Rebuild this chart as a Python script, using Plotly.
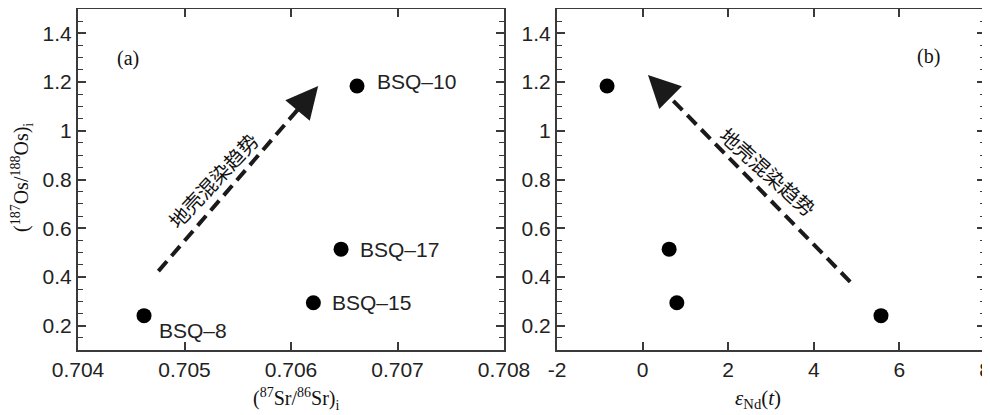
import plotly.graph_objects as go

# ---- data ----
samples = ["BSQ-10", "BSQ-17", "BSQ-15", "BSQ-8"]
sample_labels = ["BSQ\u201310", "BSQ\u201317", "BSQ\u201315", "BSQ\u20138"]
sr_i = [0.70662, 0.70647, 0.70621, 0.70462]
os_i = [1.184, 0.514, 0.294, 0.241]
eps_nd = [-0.83, 0.62, 0.80, 5.57]

x1_ticks = [0.704, 0.705, 0.706, 0.707, 0.708]
x1_ticktext = ["0.704", "0.705", "0.706", "0.707", "0.708"]
x2_ticks = [-2, 0, 2, 4, 6, 8]
x2_ticktext = ["-2", "0", "2", "4", "6", "8"]
y_ticks = [0.2, 0.4, 0.6, 0.8, 1.0, 1.2, 1.4]
y_ticktext = ["0.2", "0.4", "0.6", "0.8", "1", "1.2", "1.4"]

trend_text = "地壳混染趋势"
# trend arrows (tail -> head) in data units
trend_a = dict(x0=0.704755, y0=0.424, x1=0.706255, y1=1.184)
trend_b = dict(x0=4.85, y0=0.38, x1=0.126, y1=1.229)

TICKFONT = dict(family="Liberation Sans, Arial, sans-serif", size=21, color="#222")
SERIF = "Liberation Serif, Times New Roman, serif"
LINEC = "#3a3a3a"

# page body margin offset (the plot div sits 8px in from the window corner)
OFF = 8
W, H = 990 - OFF, 415 - OFF
# reference pixel frame of the panels
L1, R1, L2, R2, TOP, BOT = 78, 504, 557, 985, 8, 350
ml = L1 - OFF
mr = W - (R2 - OFF)
mt = TOP - OFF + 1
mb = H - (BOT - OFF)
pw = W - ml - mr
ph = H - mt - mb

def px(x):
    return (x - OFF - ml) / pw

def py(y):
    return 1 - (y - OFF - mt) / ph

fig = go.Figure()

fig.add_trace(go.Scatter(x=sr_i, y=os_i, mode="markers", xaxis="x", yaxis="y",
                         marker=dict(size=15, color="black"), showlegend=False,
                         hoverinfo="skip"))
fig.add_trace(go.Scatter(x=eps_nd, y=os_i, mode="markers", xaxis="x2", yaxis="y2",
                         marker=dict(size=15, color="black"), showlegend=False,
                         hoverinfo="skip"))

def dashed(tr, xa, ya, frac=0.9):
    xe = tr["x0"] + (tr["x1"] - tr["x0"]) * frac
    ye = tr["y0"] + (tr["y1"] - tr["y0"]) * frac
    fig.add_trace(go.Scatter(x=[tr["x0"], xe], y=[tr["y0"], ye], mode="lines",
                             xaxis=xa, yaxis=ya, showlegend=False, hoverinfo="skip",
                             line=dict(color="#1a1a1a", width=4, dash="13px,7px")))

dashed(trend_a, "x", "y")
dashed(trend_b, "x2", "y2")

axis_common = dict(showgrid=False, zeroline=False, showline=True, linewidth=2,
                   linecolor=LINEC, mirror="ticks", ticks="inside", ticklen=8,
                   tickwidth=1.5, tickcolor=LINEC, tickfont=TICKFONT, automargin=False,
                   ticklabeloverflow="allow")
yaxis_common = dict(axis_common, range=[0.1, 1.5], tickvals=y_ticks, ticktext=y_ticktext,
                    minor=dict(ticks="inside", ticklen=5, tickwidth=1.2,
                               tickcolor=LINEC, tickvals=[0.15 + 0.05 * i for i in range(27)]))

fig.update_layout(
    width=W, height=H, autosize=False,
    margin=dict(l=ml, r=mr, t=mt, b=mb, pad=0),
    paper_bgcolor="white", plot_bgcolor="white",
    xaxis=dict(axis_common, domain=[0, px(R1)], range=[0.704, 0.708],
               tickvals=x1_ticks, ticktext=x1_ticktext, anchor="y"),
    yaxis=dict(yaxis_common, domain=[0, 1], anchor="x"),
    xaxis2=dict(axis_common, domain=[px(L2), 1], range=[-2, 8],
                tickvals=x2_ticks, ticktext=x2_ticktext, anchor="y2"),
    yaxis2=dict(yaxis_common, domain=[0, 1], anchor="x2"),
)

ann = []
# axis titles
ann.append(dict(xref="paper", yref="paper", x=px(296), y=py(399),
                text="(<sup>87</sup>Sr/<sup>86</sup>Sr)<sub>i</sub>", showarrow=False,
                font=dict(family=SERIF, size=20, color="#111"), xanchor="center", yanchor="middle"))
ann.append(dict(xref="paper", yref="paper", x=px(758), y=py(399),
                text="<i>ε</i><sub>Nd</sub>(<i>t</i>)", showarrow=False,
                font=dict(family=SERIF, size=21, color="#111"), xanchor="center", yanchor="middle"))
ann.append(dict(xref="paper", yref="paper", x=px(22), y=py(178),
                text="(<sup>187</sup>Os/<sup>188</sup>Os)<sub>i</sub>", showarrow=False, textangle=-90,
                font=dict(family=SERIF, size=20, color="#111"), xanchor="center", yanchor="middle"))
# panel labels
ann.append(dict(xref="paper", yref="paper", x=px(115), y=py(45),
                text="(a)", showarrow=False, font=dict(family=SERIF, size=20, color="#111")))
ann.append(dict(xref="paper", yref="paper", x=px(942), y=py(43),
                text="(b)", showarrow=False, font=dict(family=SERIF, size=20, color="#111")))
# sample labels
shifts = [(18, 4), (17, 0), (17, 0), (13, -15)]
for lab, xv, yv, (dx, dy) in zip(sample_labels, sr_i, os_i, shifts):
    ann.append(dict(xref="x", yref="y", x=xv, y=yv, text=lab, showarrow=False,
                    xanchor="left", yanchor="middle", xshift=dx, yshift=dy,
                    font=dict(family="Liberation Sans, Arial, sans-serif", size=21, color="#222")))
# arrowheads
ann.append(dict(xref="x", yref="y", x=trend_a["x1"], y=trend_a["y1"], ax=-16, ay=19,
                axref="pixel", ayref="pixel", text="", showarrow=True, arrowhead=2,
                arrowsize=1.6, arrowwidth=4, arrowcolor="#1a1a1a"))
ann.append(dict(xref="x2", yref="y2", x=trend_b["x1"], y=trend_b["y1"], ax=17, ay=17,
                axref="pixel", ayref="pixel", text="", showarrow=True, arrowhead=2,
                arrowsize=1.6, arrowwidth=4, arrowcolor="#1a1a1a"))
# trend text
ann.append(dict(xref="x", yref="y", x=0.705264, y=0.796, text=trend_text, showarrow=False,
                textangle=-47, font=dict(family="Noto Sans CJK SC", size=20, color="#111")))
ann.append(dict(xref="x2", yref="y2", x=2.93, y=0.833, text=trend_text, showarrow=False,
                textangle=42, font=dict(family="Noto Sans CJK SC", size=20, color="#111")))

fig.update_layout(annotations=ann)
fig.write_html("out.html")
